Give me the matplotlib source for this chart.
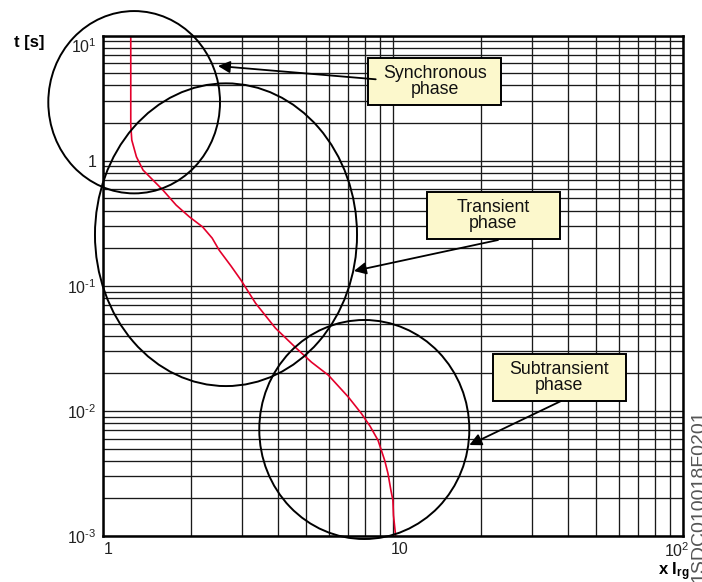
import matplotlib
matplotlib.use("Agg")
import matplotlib.pyplot as plt
from matplotlib.patches import Ellipse, Rectangle
from matplotlib.ticker import LogLocator, NullFormatter
from matplotlib.transforms import ScaledTranslation

plt.rcParams['font.family'] = ['Liberation Sans', 'DejaVu Sans']
plt.rcParams['mathtext.fontset'] = 'custom'
plt.rcParams['mathtext.rm'] = 'Liberation Sans'
plt.rcParams['mathtext.it'] = 'Liberation Sans:italic'
plt.rcParams['mathtext.bf'] = 'Liberation Sans:bold'

# ---- data ----
x_curve = [1.242, 1.242, 1.252, 1.299, 1.369, 1.481, 1.603, 1.781, 1.979,
           2.197, 2.371, 2.506, 2.755, 2.981, 3.346, 3.919, 4.587, 5.218,
           5.968, 6.987, 7.757, 8.310, 8.849, 9.330, 9.576, 9.804, 9.961,
           10.007, 10.18]
t_curve = [10, 1.93, 1.464, 1.076, 0.843, 0.701, 0.583, 0.442, 0.356,
           0.296, 0.2407, 0.193, 0.1438, 0.111, 0.0727, 0.0459, 0.0323, 0.02453,
           0.0193, 0.01294, 0.00953, 0.00754, 0.00583, 0.00403, 0.00317, 0.00232,
           0.00193, 0.001464, 0.001]

x_ticks = [1, 10, 100]
x_tick_labels = ['1', '10', r'$10^{2}$']
y_ticks = [1e-3, 1e-2, 1e-1, 1, 10]
y_tick_labels = [r'$10^{\text{-}3}$', r'$10^{\text{-}2}$', r'$10^{\text{-}1}$', '1', r'$10^{1}$']

box_labels = ['Synchronous\nphase', 'Transient\nphase', 'Subtransient\nphase']

# ---- figure ----
fig = plt.figure(figsize=(7.02, 5.82), dpi=100)
ax = fig.add_axes([0.1474, 0.0790, 0.8260, 0.8597])
ax.set_xscale('log')
ax.set_yscale('log')
ax.set_xlim(1, 100)
ax.set_ylim(1e-3, 10)

ax.xaxis.set_minor_locator(LogLocator(base=10, subs=range(2, 10)))
ax.yaxis.set_minor_locator(LogLocator(base=10, subs=range(2, 10)))
ax.xaxis.set_minor_formatter(NullFormatter())
ax.yaxis.set_minor_formatter(NullFormatter())
ax.grid(which='both', color='#1a1a1a', lw=0.95, zorder=1)
ax.set_axisbelow(True)

ax.set_xticks(x_ticks, labels=x_tick_labels)
ax.set_yticks(y_ticks, labels=y_tick_labels)
ax.tick_params(which='both', length=0)
ax.tick_params(axis='x', pad=4, labelsize=11.5, labelcolor='#222')
ax.tick_params(axis='y', pad=5, labelsize=11.5, labelcolor='#222')

for sp in ax.spines.values():
    sp.set_linewidth(1.8)
    sp.set_zorder(5)

# shift tick labels like in the reference
x_offsets_px = [5, 6, -7]
for lab, dx in zip(ax.get_xticklabels(), x_offsets_px):
    lab.set_transform(lab.get_transform() + ScaledTranslation(dx / 100, 0, fig.dpi_scale_trans))
ylabs = ax.get_yticklabels()
ylabs[-1].set_transform(ylabs[-1].get_transform() + ScaledTranslation(0, -9 / 100, fig.dpi_scale_trans))

# red curve
ax.plot(x_curve, t_curve, color='#e4002b', lw=1.2, zorder=4,
        solid_joinstyle='round', solid_capstyle='butt')

# ellipses (annotation shapes in axes fraction)
ellipses = [((0.0529, 0.867), 0.2961, 0.3644),
            ((0.2113, 0.6022), 0.4519, 0.6050),
            ((0.4498, 0.2129), 0.3622, 0.4377)]
for (c, w, h) in ellipses:
    ax.add_patch(Ellipse(c, w, h, transform=ax.transAxes, fill=False,
                         edgecolor='black', lw=1.4, zorder=6, clip_on=False))

# label boxes
boxes = [(0.5712, 0.9085), (0.6723, 0.6406), (0.7856, 0.3168)]
bw, bh = 133 / 579.8, 47 / 500.3
for (cx, cy), txt in zip(boxes, box_labels):
    ax.add_patch(Rectangle((cx - bw / 2, cy - bh / 2), bw, bh, transform=ax.transAxes,
                           facecolor='#fcf8cc', edgecolor='black', lw=1.4, zorder=7))
    ax.text(cx, cy, txt, transform=ax.transAxes, ha='center', va='center',
            fontsize=12.8, linespacing=0.95, color='#111', zorder=8)

# arrows
arrows = [((0.4695, 0.9128), (0.1975, 0.9394)),
          ((0.6804, 0.5916), (0.4320, 0.5297)),
          ((0.7891, 0.2698), (0.6310, 0.1819))]
for start, tip in arrows:
    ax.annotate('', xy=tip, xycoords='axes fraction', xytext=start,
                textcoords='axes fraction',
                arrowprops=dict(arrowstyle='-|>', color='black', lw=1.3,
                                mutation_scale=18, shrinkA=0, shrinkB=0),
                zorder=8, annotation_clip=False)

# axis titles
fig.text(29 / 702, 1 - 43 / 582, 't [s]', ha='center', va='center',
         fontsize=12, fontweight='bold')
fig.text(674 / 702, 1 - 572 / 582, r'$\mathbf{x\ I_{rg}}$', ha='center', va='center',
         fontsize=12)
# document code at the right edge (partly cut by the edge, as in the reference)
fig.text(699 / 702, 0.0, '1SDC010018F0201', rotation=90, ha='center', va='bottom',
         fontsize=14, color='#555')

fig.savefig('out.png', dpi=100)
